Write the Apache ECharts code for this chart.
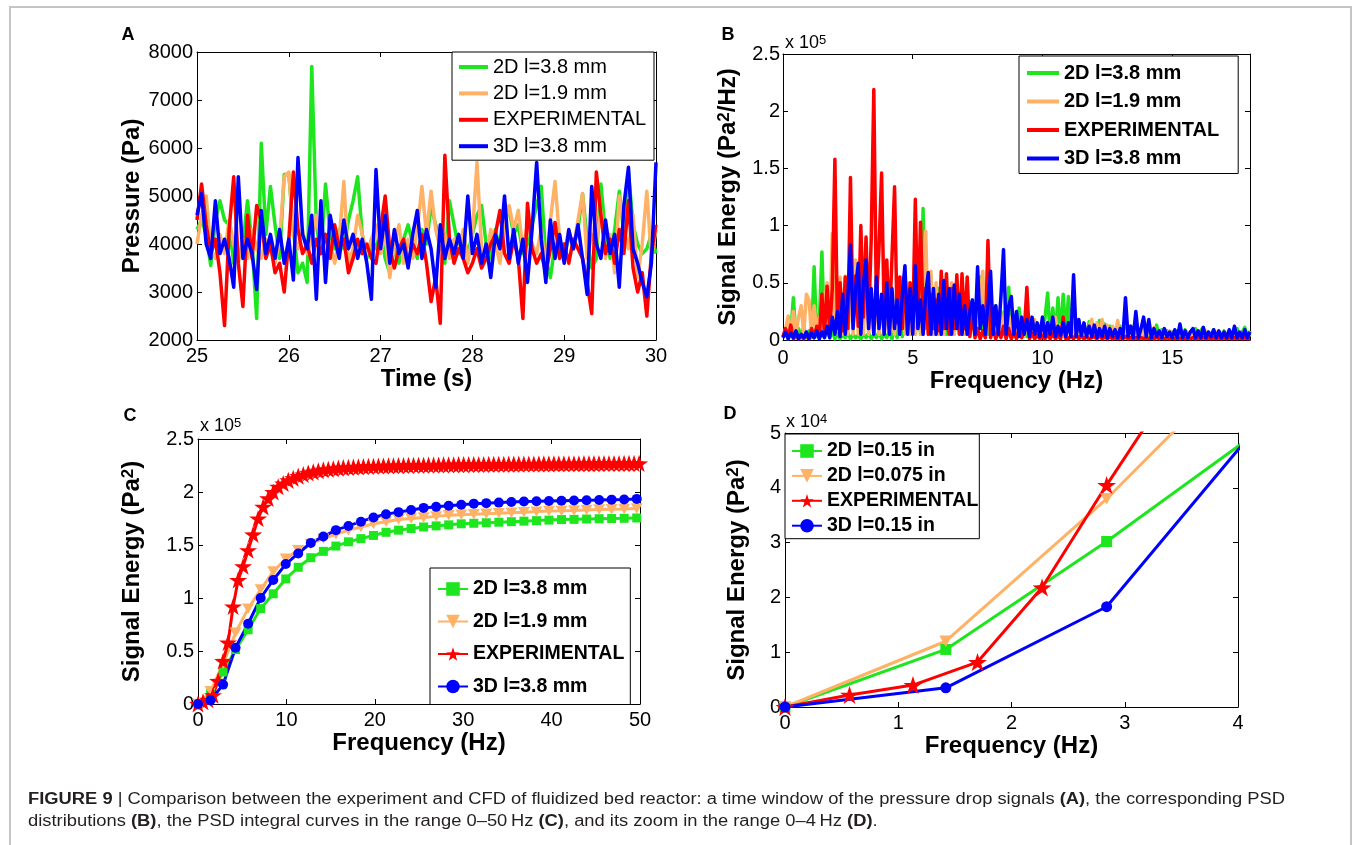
<!DOCTYPE html>
<html><head><meta charset="utf-8">
<script src="https://cdn.jsdelivr.net/npm/echarts@6/dist/echarts.min.js"></script>
<style>html,body{margin:0;padding:0;background:#fff}#c{width:1355px;height:845px}</style>
</head><body><div id="c"></div>
<script>
// ---------- Panel A: pressure signals (Pa) ----------
const TIME_A = [
25,25.05,25.1,25.15,25.2,25.25,25.3,25.35,25.4,25.45,25.5,25.55,25.6,25.65,25.7,25.75,25.8,25.85,25.9,25.95,
26,26.05,26.1,26.15,26.2,26.25,26.3,26.35,26.4,26.45,26.5,26.55,26.6,26.65,26.7,26.75,26.8,26.85,26.9,26.95,
27,27.05,27.1,27.15,27.2,27.25,27.3,27.35,27.4,27.45,27.5,27.55,27.6,27.65,27.7,27.75,27.8,27.85,27.9,27.95,
28,28.05,28.1,28.15,28.2,28.25,28.3,28.35,28.4,28.45,28.5,28.55,28.6,28.65,28.7,28.75,28.8,28.85,28.9,28.95,
29,29.05,29.1,29.15,29.2,29.25,29.3,29.35,29.4,29.45,29.5,29.55,29.6,29.65,29.7,29.75,29.8,29.85,29.9,29.95,
30];
const A_GREEN = [
4300,4500,4200,3550,4500,4900,4500,4400,3600,3700,4000,4900,4000,2450,6100,4200,5200,4400,3700,5450,
5450,4300,3400,3600,3200,7700,4400,3800,5250,4200,3900,4300,3900,4500,4900,5400,4200,3700,4100,3900,
4300,3700,3400,3900,3600,4100,4400,4000,3700,4300,4000,4800,4400,4100,3600,4900,4400,3900,4200,3800,
4200,4600,4800,4000,3700,4300,3900,4500,4700,4200,4400,3800,4000,4400,4800,5200,3700,3300,4000,3900,
3700,4200,3900,4300,5050,4100,3500,3700,5250,4200,3700,4300,5100,4200,5500,4400,4000,3800,3900,4200,
3800];
const A_ORANGE = [
4000,4600,5000,3900,3700,4200,3800,4500,4000,3600,4100,3700,4300,3900,3700,4100,3900,3600,4100,5400,
5500,4200,3900,4300,3800,4100,4600,3900,4200,4000,3600,4100,5300,3600,3900,4600,4200,3800,4100,4400,
3800,4200,3300,4000,4400,3600,4100,3700,4300,5200,4200,5100,4300,3900,4200,3700,4100,3800,4300,3600,
4200,5700,3900,3700,4300,4000,3600,4400,4800,4300,4700,3900,4400,4000,3800,4300,3500,4500,5300,4100,
3800,4300,3900,4500,5050,3700,4200,4000,4700,3700,4200,3400,5000,4300,3900,4600,3300,4000,5100,3700,
4300];
const A_RED = [
4500,5250,4400,3800,4100,3400,2300,4300,5400,3600,2700,4600,3700,4800,4500,3700,4000,3400,3600,3000,
4100,5500,4300,3800,4000,3600,4100,3800,4200,3700,4400,3900,4100,3400,3700,4100,3800,4000,3700,3600,
4300,5000,3900,3500,3900,4100,3600,4000,3800,4200,3600,2800,3300,2350,5850,4100,3600,3900,3700,3400,
3600,3900,3500,3700,4000,4200,4700,3800,3600,4100,3700,2450,4850,3900,3600,3800,3400,3900,4450,3700,
4000,3600,4100,3900,3700,3200,2550,5500,4600,3800,4100,3600,4300,3800,4900,3500,3000,3400,2500,3800,
4400];
const A_BLUE = [
4600,5050,4000,3700,4900,3800,4100,3700,3100,5400,3700,4100,3800,3050,4700,3800,4200,3700,4300,3600,
4100,3250,5800,4200,3900,4600,2850,4900,3200,4600,4100,3700,4500,3900,4200,3700,4100,3600,2850,5550,
3900,4600,3600,4300,3800,4000,3500,4200,4700,3700,4300,3900,3100,4400,3700,4100,3800,4200,3700,5000,
3800,4200,3600,4000,3300,4200,3900,5000,3700,4300,3600,4100,3200,4300,5700,4100,3200,4500,3700,4200,
3600,4300,3900,4400,3700,2950,5200,4000,3700,4500,3800,4200,3100,4800,5600,3900,3600,3200,2900,3600,
5700];

// ---------- Panel B: PSD (units of 1e5 Pa^2/Hz) ----------
const FREQ_B = [
0,0.1,0.2,0.3,0.4,0.5,0.6,0.7,0.8,0.9,1,1.1,1.2,1.3,1.4,1.5,1.6,1.7,1.8,1.9,
2,2.1,2.2,2.3,2.4,2.5,2.6,2.7,2.8,2.9,3,3.1,3.2,3.3,3.4,3.5,3.6,3.7,3.8,3.9,
4,4.1,4.2,4.3,4.4,4.5,4.6,4.7,4.8,4.9,5,5.1,5.2,5.3,5.4,5.5,5.6,5.7,5.8,5.9,
6,6.1,6.2,6.3,6.4,6.5,6.6,6.7,6.8,6.9,7,7.1,7.2,7.3,7.4,7.5,7.6,7.7,7.8,7.9,
8,8.1,8.2,8.3,8.4,8.5,8.6,8.7,8.8,8.9,9,9.1,9.2,9.3,9.4,9.5,9.6,9.7,9.8,9.9,
10,10.1,10.2,10.3,10.4,10.5,10.6,10.7,10.8,10.9,11,11.1,11.2,11.3,11.4,11.5,11.6,11.7,11.8,11.9,
12,12.1,12.2,12.3,12.4,12.5,12.6,12.7,12.8,12.9,13,13.1,13.2,13.3,13.4,13.5,13.6,13.7,13.8,13.9,
14,14.1,14.2,14.3,14.4,14.5,14.6,14.7,14.8,14.9,15,15.1,15.2,15.3,15.4,15.5,15.6,15.7,15.8,15.9,
16,16.1,16.2,16.3,16.4,16.5,16.6,16.7,16.8,16.9,17,17.1,17.2,17.3,17.4,17.5,17.6,17.7,17.8,17.9,
18];
const B_GREEN = [
0.02,0.08,0.01,0.06,0.37,0.02,0.1,0.02,0.12,0.02, 0.08,0.02,0.64,0.03,0.15,0.77,0.03,0.1,0.02,0.08,
0.01,0.06,0.01,0.05,0.02,0.06,0.01,0.05,0.02,0.04, 0.01,0.05,0.02,0.06,0.01,0.05,0.02,0.07,0.01,0.05,
0.02,0.08,0.01,0.1,0.02,0.12,0.03,0.2,0.3,0.05, 0.2,0.05,0.4,0.05,1.15,0.1,0.2,0.56,0.05,0.3,
0.45,0.05,0.35,0.05,0.3,0.4,0.05,0.52,0.05,0.3, 0.05,0.3,0.05,0.35,0.05,0.3,0.55,0.05,0.3,0.05,
0.2,0.05,0.3,0.05,0.25,0.05,0.2,0.46,0.05,0.15, 0.03,0.28,0.03,0.15,0.03,0.2,0.03,0.15,0.03,0.12,
0.03,0.2,0.41,0.03,0.28,0.03,0.37,0.03,0.4,0.03, 0.38,0.03,0.15,0.03,0.17,0.03,0.13,0.03,0.16,0.03,
0.12,0.03,0.17,0.02,0.14,0.03,0.12,0.02,0.1,0.03, 0.12,0.02,0.1,0.03,0.12,0.02,0.1,0.03,0.09,0.02,
0.1,0.02,0.08,0.03,0.13,0.02,0.09,0.03,0.08,0.02, 0.07,0.02,0.08,0.03,0.05,0.09,0.02,0.07,0.03,0.1,
0.02,0.08,0.11,0.02,0.07,0.03,0.09,0.02,0.06,0.03, 0.08,0.02,0.07,0.03,0.06,0.1,0.02,0.07,0.11,0.03,
0.08];
const B_ORANGE = [
0.02,0.1,0.21,0.03,0.25,0.05,0.2,0.3,0.05,0.4, 0.35,0.05,0.3,0.05,0.2,0.05,0.35,0.5,0.05,0.93,
0.05,0.5,0.55,0.05,0.56,0.05,0.6,0.05,0.7,0.05, 0.6,0.05,0.77,0.05,0.3,0.05,0.4,0.05,0.35,0.05,
0.3,0.05,0.2,0.05,0.55,0.05,0.55,0.05,0.5,0.05, 0.4,0.05,0.55,0.05,0.5,0.95,0.05,0.6,0.05,0.5,
0.05,0.45,0.05,0.4,0.05,0.5,0.05,0.4,0.05,0.35, 0.05,0.2,0.05,0.15,0.3,0.05,0.4,0.6,0.05,0.38,
0.05,0.3,0.05,0.25,0.05,0.2,0.3,0.05,0.2,0.05, 0.15,0.03,0.2,0.03,0.15,0.2,0.03,0.18,0.03,0.12,
0.03,0.15,0.03,0.12,0.03,0.2,0.03,0.13,0.03,0.07, 0.12,0.03,0.15,0.03,0.16,0.03,0.14,0.03,0.12,0.18,
0.03,0.15,0.03,0.18,0.03,0.13,0.03,0.12,0.03,0.17, 0.03,0.12,0.03,0.1,0.03,0.12,0.03,0.09,0.03,0.1,
0.02,0.09,0.02,0.11,0.02,0.08,0.02,0.07,0.02,0.08, 0.02,0.07,0.02,0.06,0.08,0.02,0.07,0.02,0.06,0.02,
0.07,0.02,0.06,0.08,0.02,0.06,0.02,0.07,0.02,0.06, 0.02,0.06,0.02,0.07,0.02,0.06,0.02,0.05,0.06,0.02,
0.05];
const B_RED = [
0.03,0.1,0.02,0.13,0.01,0.05,0.01,0.04,0.01,0.05, 0.01,0.1,0.02,0.12,0.03,0.4,0.05,0.47,0.08,0.45,
1.58,0.1,0.5,0.08,0.55,0.1,1.42,0.15,0.56,0.12, 1.0,0.2,0.9,0.15,0.88,2.19,0.3,0.8,1.46,0.2,
0.7,0.1,0.72,1.34,0.15,0.55,0.1,0.56,0.08,0.5, 0.1,1.23,0.12,1.03,0.2,0.45,0.05,0.4,0.1,0.35,
0.08,0.6,0.1,0.58,0.05,0.45,0.1,0.57,0.05,0.58, 0.1,0.55,0.03,0.25,0.02,0.1,0.01,0.08,0.02,0.87,
0.02,0.1,0.01,0.08,0.02,0.12,0.01,0.1,0.01,0.06, 0.01,0.1,0.02,0.08,0.46,0.01,0.06,0.01,0.05,0.01,
0.04,0.01,0.05,0.01,0.06,0.01,0.04,0.01,0.2,0.01, 0.01,0.04,0.01,0.05,0.01,0.04,0.01,0.03,0.01,0.02,
0.03,0.01,0.04,0.01,0.03,0.01,0.03,0.01,0.02,0.01, 0.02,0.01,0.03,0.01,0.02,0.01,0.02,0.01,0.02,0.01,
0.02,0.01,0.02,0.01,0.03,0.01,0.02,0.01,0.02,0.01, 0.02,0.01,0.02,0.01,0.02,0.01,0.02,0.01,0.02,0.01,
0.02,0.01,0.02,0.01,0.02,0.01,0.02,0.01,0.02,0.01, 0.02,0.01,0.02,0.01,0.02,0.01,0.02,0.01,0.02,0.01,
0.01];
const B_BLUE = [
0.02,0.07,0.01,0.06,0.02,0.08,0.01,0.05,0.02,0.07, 0.01,0.06,0.02,0.08,0.01,0.07,0.02,0.12,0.02,0.2,
0.05,0.25,0.03,0.4,0.05,0.38,0.83,0.1,0.45,0.67, 0.05,0.5,0.7,0.1,0.45,0.05,0.55,0.1,0.4,0.05,
0.5,0.05,0.45,0.1,0.35,0.05,0.4,0.65,0.05,0.45, 0.05,0.65,0.1,0.35,0.05,0.4,0.59,0.05,0.45,0.05,
0.4,0.05,0.52,0.1,0.45,0.05,0.48,0.1,0.4,0.05, 0.3,0.05,0.25,0.35,0.05,0.64,0.1,0.3,0.05,0.3,
0.6,0.05,0.3,0.05,0.38,0.79,0.05,0.3,0.38,0.05, 0.25,0.03,0.2,0.05,0.18,0.03,0.2,0.05,0.15,0.03,
0.2,0.03,0.15,0.05,0.2,0.03,0.12,0.04,0.15,0.03, 0.15,0.03,0.57,0.03,0.18,0.04,0.15,0.03,0.12,0.03,
0.13,0.02,0.1,0.03,0.12,0.02,0.1,0.03,0.09,0.02, 0.1,0.02,0.37,0.03,0.12,0.02,0.25,0.02,0.1,0.2,
0.03,0.18,0.02,0.1,0.03,0.08,0.02,0.1,0.03,0.07, 0.02,0.09,0.02,0.14,0.02,0.08,0.02,0.07,0.1,0.02,
0.08,0.02,0.11,0.02,0.07,0.03,0.09,0.02,0.08,0.02, 0.07,0.02,0.09,0.02,0.12,0.02,0.07,0.02,0.09,0.02,
0.07];

// ---------- Panels C & D: PSD integral (units of 1e5 Pa^2) ----------
const FREQ_CFD = [0,1.42,2.84,4.25,5.67,7.09,8.51,9.93,11.34,12.76,14.18,15.6,17.02,18.43,19.85,21.27,22.69,24.11,
25.52,26.94,28.36,29.78,31.2,32.61,34.03,35.45,36.87,38.29,39.7,41.12,42.54,43.96,45.38,46.79,48.21,49.63];
const FREQ_EXP = [0,0.57,1.13,1.7,2.27,2.84,3.4,3.97,4.54,5.1,5.67,6.24,6.8,7.37,7.94,8.51,9.07,9.64,10.21,10.77,
11.34,11.91,12.47,13.04,13.61,14.18,14.74,15.31,15.88,16.44,17.01,17.58,18.14,18.71,19.28,19.85,20.41,20.98,21.55,22.11,
22.68,23.25,23.81,24.38,24.95,25.52,26.08,26.65,27.22,27.78,28.35,28.92,29.48,30.05,30.62,31.19,31.75,32.32,32.89,33.45,
34.02,34.59,35.15,35.72,36.29,36.86,37.42,37.99,38.56,39.12,39.69,40.26,40.82,41.39,41.96,42.53,43.09,43.66,44.23,44.79,
45.36,45.93,46.49,47.06,47.63,48.2,48.76,49.33,49.9];
const C_GREEN = [0,0.105,0.302,0.513,0.7,0.9,1.04,1.18,1.29,1.38,1.44,1.49,1.53,1.56,1.59,1.62,1.64,1.655,
1.67,1.68,1.69,1.7,1.705,1.71,1.715,1.72,1.725,1.73,1.735,1.74,1.742,1.745,1.748,1.75,1.752,1.755];
const C_ORANGE = [0,0.12,0.38,0.672,0.9,1.08,1.25,1.37,1.45,1.51,1.56,1.6,1.64,1.67,1.7,1.72,1.74,1.75,
1.76,1.77,1.78,1.785,1.79,1.795,1.8,1.805,1.81,1.815,1.82,1.822,1.825,1.83,1.835,1.838,1.84,1.845];
const C_BLUE = [0,0.035,0.183,0.531,0.757,1.0,1.17,1.32,1.42,1.52,1.58,1.64,1.68,1.72,1.76,1.79,1.81,1.83,
1.85,1.86,1.87,1.88,1.89,1.895,1.9,1.905,1.91,1.912,1.915,1.918,1.92,1.922,1.925,1.928,1.93,1.935];
const C_RED = [0,0.022,0.04,0.082,0.218,0.405,0.58,0.92,1.17,1.3,1.45,1.6,1.75,1.86,1.94,2.0,2.05,2.08,2.11,2.13,
2.15,2.165,2.18,2.19,2.2,2.21,2.215,2.22,2.225,2.23,2.232,
2.235,2.237,2.24,2.242,2.243,2.245,2.246,2.247,2.248,2.249,
2.25,2.251,2.252,2.253,2.253,2.254,2.255,2.255,2.256,2.257,
2.257,2.258,2.258,2.259,2.259,2.26,2.26,2.261,2.261,2.262,
2.262,2.263,2.263,2.263,2.264,2.264,2.264,2.265,2.265,2.265,
2.266,2.266,2.266,2.267,2.267,2.267,2.268,2.268,2.268,2.268,
2.269,2.269,2.269,2.269,2.27,2.27,2.27,2.27];

const NAMES_MM = ['2D l=3.8 mm','2D l=1.9 mm','EXPERIMENTAL','3D l=3.8 mm'];
const NAMES_IN = ['2D l=0.15 in','2D l=0.075 in','EXPERIMENTAL','3D l=0.15 in'];

// ---------- styling / layout ----------
const FONT = '"Liberation Sans", Arial, Helvetica, sans-serif';
const COL = ['#1ee61e', '#ffb266', '#ff0000', '#0000ff'];
const STAR = 'path://M50 0L61.8 35.3L99 35.6L69 57.5L80.4 93L50 71.4L19.6 93L31 57.5L1 35.6L38.2 35.3Z';
const TRI_DOWN = 'path://M0 0L10 0L5 8.7Z';

const GRIDS = [
  {left:197, top:52, width:459, height:288},
  {left:783, top:54, width:467, height:286},
  {left:198, top:439, width:442, height:265},
  {left:785, top:433, width:453, height:274}
];
const supRich = {
  t:{fontSize:24, fontWeight:'bold', fontFamily:FONT, color:'#000', lineHeight:24, verticalAlign:'bottom'},
  s:{fontSize:17, fontWeight:'bold', fontFamily:FONT, color:'#000', lineHeight:17, verticalAlign:'top', padding:[0,0,15,0]}
};
const PANELS = [
  {x:[25,30,1], y:[2000,8000,1000], xName:'Time (s)', yName:'Pressure (Pa)', xGap:26, yGap:53, xMargin:6, yMargin:4},
  {x:[0,18,5], y:[0,2.5,0.5], xName:'Frequency (Hz)', yName:'{t|Signal Energy (Pa}{s|2}{t|/Hz)}', xGap:27, yGap:35, xMargin:8, yMargin:3, hideMax:true},
  {x:[0,50,10], y:[0,2.5,0.5], xName:'Frequency (Hz)', yName:'{t|Signal Energy (Pa}{s|2}{t|)}', xGap:27, yGap:54, xMargin:6, yMargin:4},
  {x:[0,4,1], y:[0,0.5,0.1], xName:'Frequency (Hz)', yName:'{t|Signal Energy (Pa}{s|2}{t|)}', xGap:27, yGap:36, xMargin:6, yMargin:4, yFmt:v=>String(Math.round(v*10))}
];

const xAxes = [], yAxes = [];
PANELS.forEach((p, i) => {
  const line = {show:true, onZero:false, lineStyle:{color:'#000', width:1}};
  const tick = {show:true, inside:true, length:5, lineStyle:{color:'#000', width:1}};
  const lab = (m, extra) => Object.assign({color:'#000', fontSize:20, fontFamily:FONT, margin:m, formatter:v=>String(v)}, extra || {});
  const nameStyle = {fontSize:24, fontWeight:'bold', fontFamily:FONT, color:'#000', rich:supRich};
  xAxes.push({type:'value', gridIndex:i, position:'bottom', min:p.x[0], max:p.x[1], interval:p.x[2],
    axisLine:line, axisTick:tick, splitLine:{show:false},
    axisLabel:lab(p.xMargin, p.hideMax ? {showMaxLabel:false} : {}),
    name:p.xName, nameLocation:'middle', nameGap:p.xGap, nameTextStyle:nameStyle});
  xAxes.push({type:'value', gridIndex:i, position:'top', min:p.x[0], max:p.x[1], interval:p.x[2],
    axisLine:line, axisTick:tick, splitLine:{show:false}, axisLabel:{show:false}});
  yAxes.push({type:'value', gridIndex:i, position:'left', min:p.y[0], max:p.y[1], interval:p.y[2],
    axisLine:line, axisTick:tick, splitLine:{show:false},
    axisLabel:lab(p.yMargin, p.yFmt ? {formatter:p.yFmt} : {}),
    name:p.yName, nameLocation:'middle', nameGap:p.yGap, nameTextStyle:nameStyle});
  yAxes.push({type:'value', gridIndex:i, position:'right', min:p.y[0], max:p.y[1], interval:p.y[2],
    axisLine:line, axisTick:tick, splitLine:{show:false}, axisLabel:{show:false}});
});

const zip = (xs, ys) => xs.map((x, k) => [x, ys[k]]);
const series = [];
function plain(panel, prefix, names, xs, arrs, width) {
  arrs.forEach((a, k) => series.push({
    type:'line', name:prefix + names[k], xAxisIndex:2*panel, yAxisIndex:2*panel,
    data:zip(xs, a), symbol:'none', showSymbol:false, silent:true, animation:false,
    lineStyle:{color:COL[k], width:width, join:'round'}, itemStyle:{color:COL[k]}
  }));
}
plain(0, 'A|', NAMES_MM, TIME_A, [A_GREEN, A_ORANGE, A_RED, A_BLUE], 3.5);
plain(1, 'B|', NAMES_MM, FREQ_B, [B_GREEN, B_ORANGE, B_RED, B_BLUE], 3.5);

function marked(panel, prefix, names, sizes, width) {
  const defs = [
    [FREQ_CFD, C_GREEN, 'rect'], [FREQ_CFD, C_ORANGE, TRI_DOWN],
    [FREQ_EXP, C_RED, STAR], [FREQ_CFD, C_BLUE, 'circle']
  ];
  defs.forEach((d, k) => series.push({
    type:'line', name:prefix + names[k], xAxisIndex:2*panel, yAxisIndex:2*panel,
    data:zip(d[0], d[1]), symbol:d[2], symbolSize:sizes[k], symbolKeepAspect:true,
    showSymbol:true, showAllSymbol:true, silent:true, animation:false, clip:true,
    lineStyle:{color:COL[k], width:width}, itemStyle:{color:COL[k], borderWidth:0}
  }));
}
marked(2, 'C|', NAMES_MM, [9, 12, 18, 10], 3);
marked(3, 'D|', NAMES_IN, [11, 13, 19, 11], 3);

function legend(prefix, names, o) {
  return Object.assign({
    orient:'vertical', data:names.map(n => prefix + n), selectedMode:false,
    formatter: n => n.slice(2), backgroundColor:'#fff', borderColor:'#000', borderWidth:1,
    borderRadius:0, textStyle:{color:'#000', fontFamily:FONT, fontSize:o.fs, fontWeight:o.fw, lineHeight:o.lh}
  }, o.extra);
}
const legends = [
  legend('A|', NAMES_MM, {fs:20, fw:'normal', lh:20, extra:{left:452, top:52, padding:[5,8,4,7], itemWidth:29, itemHeight:4, itemGap:6.4, icon:'rect'}}),
  legend('B|', NAMES_MM, {fs:20, fw:'bold', lh:22, extra:{left:1019, top:56, padding:[6,19,4,8], itemWidth:32, itemHeight:4, itemGap:6.5, icon:'rect'}}),
  legend('C|', NAMES_MM, {fs:19.5, fw:'bold', lh:22, extra:{left:430, top:568, padding:[10,6,7,7], itemWidth:30, itemHeight:17, itemGap:10.5}}),
  legend('D|', NAMES_IN, {fs:19.5, fw:'bold', lh:20, extra:{left:785, top:434, padding:[7,1,3,6], itemWidth:30, itemHeight:17, itemGap:4.9}})
];

// ---------- annotations ----------
const LETTERS = [['A',128,35],['B',728,35],['C',130,416],['D',730,414]];
const EXPONENTS = [['5',785,52],['5',200,435],['4',786,431]];
const CAP1 = [['FIGURE 9',1],[' | Comparison between the experiment and CFD of fluidized bed reactor: a time window of the pressure drop signals ',0],['(A)',1],[', the corresponding PSD',0]];
const CAP2 = [['distributions ',0],['(B)',1],[', the PSD integral curves in the range 0\u201350\u2009Hz ',0],['(C)',1],[', and its zoom in the range 0\u20134\u2009Hz ',0],['(D)',1],['.',0]];
const CAP_TARGET_W = 1257;

const mctx = document.createElement('canvas').getContext('2d');
const segW = segs => segs.reduce((s, [t, b]) => { mctx.font = (b ? 'bold ' : '') + '16px "Liberation Sans"'; return s + mctx.measureText(t).width; }, 0);
const capScale = CAP_TARGET_W / segW(CAP1);
const richStr = segs => segs.map(([t, b]) => '{' + (b ? 'b' : 'r') + '|' + t + '}').join('');
const capRich = {b:{fontWeight:'bold', fontSize:16, fontFamily:FONT, fill:'#231f20'}, r:{fontSize:16, fontFamily:FONT, fill:'#231f20'}};

const graphic = [
  {type:'rect', silent:true, z:-10, shape:{x:10, y:7, width:1341, height:900}, style:{fill:'none', stroke:'#c4c4c4', lineWidth:2}}
];
LETTERS.forEach(([t, x, y]) => graphic.push({type:'text', silent:true, x, y,
  style:{text:t, fontSize:18, fontWeight:'bold', fontFamily:FONT, fill:'#000', align:'center', verticalAlign:'middle'}}));
EXPONENTS.forEach(([e, x, y]) => graphic.push({type:'text', silent:true, x, y,
  style:{text:'{n|x 10}{s|' + e + '}', align:'left', verticalAlign:'bottom',
    rich:{n:{fontSize:18, lineHeight:18, fontFamily:FONT, fill:'#000', verticalAlign:'bottom'},
          s:{fontSize:13, lineHeight:13, fontFamily:FONT, fill:'#000', verticalAlign:'top', padding:[0,0,9,0]}}}}));
[[CAP1, 800], [CAP2, 822]].forEach(([segs, y]) => graphic.push({type:'text', silent:true, x:28, y, scaleX:capScale, originX:0,
  style:{text:richStr(segs), rich:capRich, fontSize:16, fontFamily:FONT, fill:'#231f20', align:'left', verticalAlign:'middle'}}));

const chart = echarts.init(document.getElementById('c'), null, {renderer:'canvas'});
chart.setOption({
  animation:false, backgroundColor:'#fff', textStyle:{fontFamily:FONT},
  grid:GRIDS, xAxis:xAxes, yAxis:yAxes, series, legend:legends, graphic
});
</script></body></html>
